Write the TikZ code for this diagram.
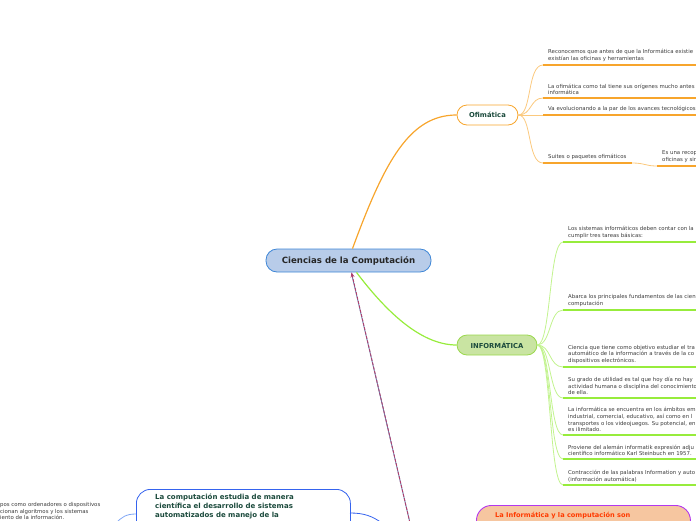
\documentclass[tikz,border=0pt]{standalone}
\usepackage{fontspec}
\setmainfont{DejaVu Sans}
\usetikzlibrary{calc,arrows.meta}
\definecolor{orn}{HTML}{F7A52C}
\definecolor{ornl}{HTML}{FBC97E}
\definecolor{grn}{HTML}{97EC3C}
\definecolor{grnl}{HTML}{C2F38E}
\definecolor{txt}{HTML}{3C3C3C}
\definecolor{dgr}{HTML}{1B4A3C}
\definecolor{cfill}{HTML}{B8CCE9}
\definecolor{cbord}{HTML}{3E86D6}
\definecolor{ifill}{HTML}{C9E4A2}
\definecolor{ibord}{HTML}{9AD84C}
\definecolor{blu}{HTML}{3563EE}
\definecolor{blul}{HTML}{7FA6F5}
\definecolor{peach}{HTML}{F6C6A0}
\definecolor{purp}{HTML}{B338EE}
\definecolor{redo}{HTML}{FF3A00}
\definecolor{maro}{HTML}{B0406E}
\definecolor{arrb}{HTML}{6A78A8}
\begin{document}
\begin{tikzpicture}[x=1pt,y=-1pt,
  leaf/.style={font=\fontsize{5.4}{6.7}\selectfont, text=txt, anchor=south west, inner sep=0pt, align=left},
  othick/.style={draw=orn, line width=1.8pt},
  othin/.style={draw=ornl, line width=0.8pt},
  gthick/.style={draw=grn, line width=1.8pt},
  gthin/.style={draw=grnl, line width=0.8pt},
  topic/.style={rounded corners=10pt, line width=0.8pt, font=\bfseries\fontsize{6.8}{8}\selectfont, text=dgr, inner sep=0pt}
]
\useasboundingbox (0,0) rectangle (696,520);
\clip (0,0) rectangle (696,520);

% central node
\node[rounded corners=11pt, draw=cbord, fill=cfill, line width=0.8pt, minimum width=165pt, minimum height=23pt, inner sep=0pt, font=\bfseries\fontsize{8.6}{10}\selectfont, text=black!85] (cc) at (348.5,260.5) {Ciencias de la Computación};

% Ofimatica
\node[topic, draw=orn, fill=white, minimum width=61pt, minimum height=20pt] (ofi) at (487.5,115) {Ofimática};
\draw[draw=orn, line width=1.2pt] ($(cc.north)+(4,0)$) .. controls (385,160) and (410,115) .. (ofi.west);

\coordinate (o1) at (543,65);
\coordinate (o2) at (543,98);
\coordinate (o3) at (543,115);
\coordinate (o4) at (543,163);
\coordinate (o4e) at (632,163);
\coordinate (o5) at (657,166);

\draw[othin] (ofi.east) .. controls (532,115) and (527,65) .. (o1);
\draw[othin] (ofi.east) .. controls (532,115) and (530,98) .. (o2);
\draw[othin] (ofi.east) -- (o3);
\draw[othin] (ofi.east) .. controls (532,115) and (527,163) .. (o4);
\draw[othin] (o4e) .. controls (645,163) and (645,166) .. (o5);

\draw[othick] (o1) -- (696,65);
\draw[othick] (o2) -- (696,98);
\draw[othick] (o3) -- (696,115);
\draw[othick] (o4) -- (o4e);
\draw[othick] (o5) -- (696,166);

\node[leaf] (t1) at (548,62) {Reconocemos que antes de que la Informática existie\\existían las oficinas y herramientas};
\node[leaf] (t2) at (548,95) {La ofimática como tal tiene sus orígenes mucho antes\\informática};
\node[leaf] (t3) at (548,112) {Va evolucionando a la par de los avances tecnológicos};
\node[leaf] (t4) at (548,160) {Suites o paquetes ofimáticos};
\node[leaf] (t5) at (662,163) {Es una recop\\oficinas y sir};

% Informatica
\node[topic, draw=ibord, fill=ifill, minimum width=80pt, minimum height=20pt] (inf) at (497,345) {INFORMÁTICA};
\draw[draw=grn, line width=1.2pt] ($(cc.south)+(8,0)$) .. controls (385,310) and (420,345) .. (inf.west);

\foreach \n/\y in {1/242,2/310,3/367,4/398,5/435,6/459,7/485}{
  \coordinate (i\n) at (563,\y);
  \draw[gthin] (inf.east) .. controls (551,345) and (549,\y) .. (i\n);
  \draw[gthick] (i\n) -- (696,\y);
}
\node[leaf] (u1) at (568,239) {Los sistemas informáticos deben contar con la\\cumplir tres tareas básicas:};
\node[leaf] (u2) at (568,307) {Abarca los principales fundamentos de las cien\\computación};
\node[leaf] (u3) at (568,364) {Ciencia que tiene como objetivo estudiar el tra\\automático de la información a través de la co\\dispositivos electrónicos.};
\node[leaf] (u4) at (568,395) {Su grado de utilidad es tal que hoy día no hay\\actividad humana o disciplina del conocimiento\\de ella.};
\node[leaf] (u5) at (568,432) {La informática se encuentra en los ámbitos em\\industrial, comercial, educativo, así como en l\\transportes o los videojuegos. Su potencial, en\\es ilimitado.};
\node[leaf] (u6) at (568,456) {Proviene del alemán informatik expresión adju\\científico informático Karl Steinbuch en 1957.};
\node[leaf] (u7) at (568,482) {Contracción de las palabras Information y auto\\(información automática)};

% bottom left computacion
\node[draw=blu, fill=white, rounded corners=14pt, line width=0.8pt, minimum width=214pt, minimum height=70pt, anchor=north west, inner sep=0pt] (comp) at (136,489) {};
\node[anchor=north west, inner sep=0pt, align=left, font=\bfseries\fontsize{7}{9}\selectfont, text=dgr] (comptxt) at (155,493.5) {La computación estudia de manera\\científica el desarrollo de sistemas\\automatizados de manejo de la};
\coordinate (cl) at (136,514);
\coordinate (cr) at (350,513);
\draw[draw=blul, line width=0.8pt] (cl) .. controls (126,514) and (122,517) .. (116,523);
\draw[draw=blu, line width=0.8pt] (cr) .. controls (364,513) and (372,516) .. (382,523);
\node[leaf, anchor=north west] (lt) at (0,502) {pos como ordenadores o dispositivos\\cionan algoritmos y los sistemas\\iento de la información.};

% bottom right
\node[draw=purp, fill=peach, rounded corners=15pt, line width=0.9pt, minimum width=214pt, minimum height=40pt, anchor=north west, inner sep=0pt] (rel) at (476,505) {};
\node[anchor=base west, inner sep=0pt, font=\bfseries\fontsize{6.6}{8}\selectfont, text=redo] (reltxt) at (495,517.5) {La Informática y la computación son};

% arrow
\coordinate (as) at (410,523);
\draw[draw=arrb, line width=0.9pt] (as) -- ($(cc.south)+(3,1)$);
\draw[draw=maro, line width=0.9pt, dash pattern=on 3pt off 1.5pt, -{Stealth[length=5pt,width=4pt]}] (as) -- ($(cc.south)+(3,0)$);
\end{tikzpicture}
\end{document}
